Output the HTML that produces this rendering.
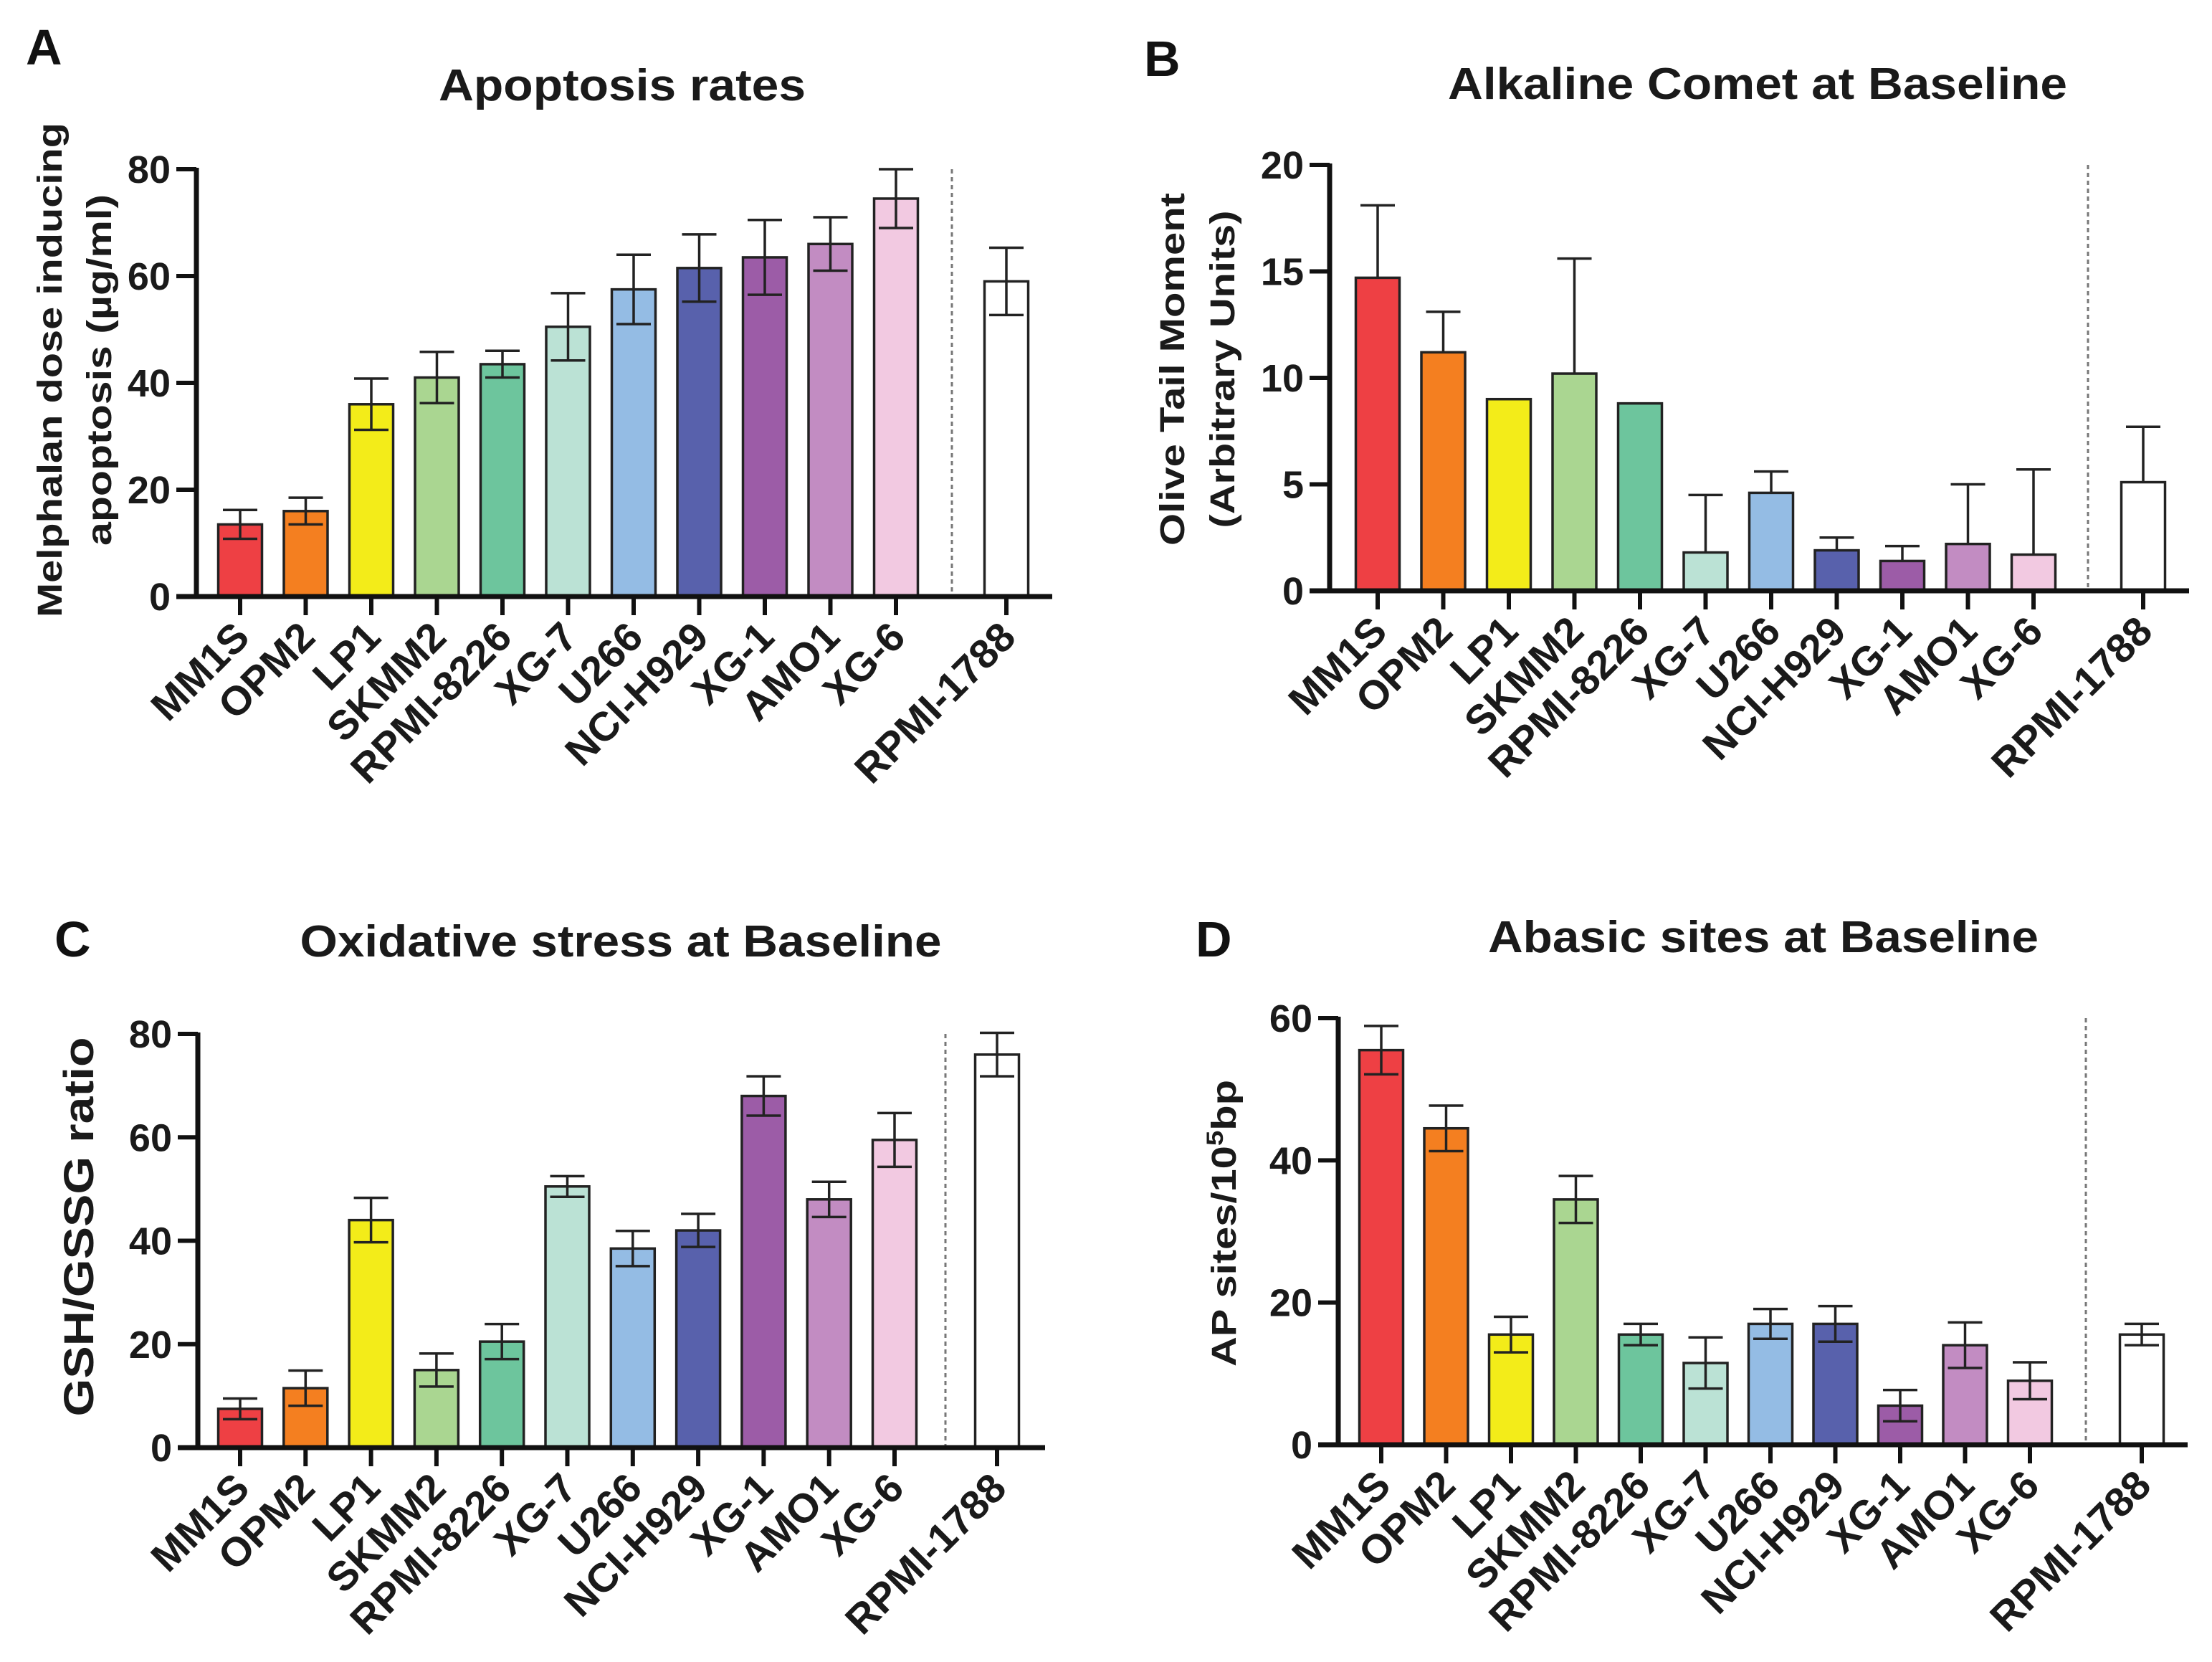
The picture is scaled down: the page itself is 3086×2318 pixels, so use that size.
<!DOCTYPE html>
<html><head><meta charset="utf-8"><style>
html,body{margin:0;padding:0;background:#fff;}
svg{display:block;font-family:"Liberation Sans",Arial,sans-serif;}
</style></head><body>
<svg id="fig" width="3086" height="2318" viewBox="0 0 3086 2318" xmlns="http://www.w3.org/2000/svg"></svg>
<script>
const categories = ["MM1S","OPM2","LP1","SKMM2","RPMI-8226","XG-7","U266","NCI-H929","XG-1","AMO1","XG-6","RPMI-1788"];
const colors = ["#ee4044","#f47f20","#f3ec19","#aad691","#6dc59d","#bbe2d5","#94bce4","#5861ac","#9c5ca7","#c28cc2","#f2c9e1","#ffffff"];
const apoptosisValues = [13.5,16,36,41,43.5,50.5,57.5,61.5,63.5,66,74.5,59];
const apoptosisErrors = [2.7,2.5,4.8,4.8,2.5,6.3,6.5,6.3,7,5,5.5,6.3];
const cometValues = [14.7,11.2,9.0,10.2,8.8,1.8,4.6,1.9,1.4,2.2,1.7,5.1];
const cometErrors = [3.4,1.9,0,5.4,0,2.7,1.0,0.6,0.7,2.8,4.0,2.6];
const oxidativeValues = [7.5,11.5,44,15,20.5,50.5,38.5,42,68,48,59.5,76];
const oxidativeErrors = [2,3.4,4.3,3.2,3.4,2,3.4,3.2,3.8,3.4,5.2,4.2];
const abasicValues = [55.5,44.5,15.5,34.5,15.5,11.5,17,17,5.5,14,9,15.5];
const abasicErrors = [3.4,3.2,2.5,3.3,1.5,3.6,2.1,2.5,2.2,3.2,2.6,1.5];
const ticksA = [0,20,40,60,80];
const ticksB = [0,5,10,15,20];
const ticksC = [0,20,40,60,80];
const ticksD = [0,20,40,60];

const NS="http://www.w3.org/2000/svg";
const svg=document.getElementById('fig');
function mk(tag,attrs,parent){const e=document.createElementNS(NS,tag);for(const k in attrs)e.setAttribute(k,attrs[k]);(parent||svg).appendChild(e);return e;}

function panel(o){
  const g=mk('g',{});
  
  
  const yMax=o.ticks[o.ticks.length-1];
  const yS=v=>o.y0-(v/yMax)*(o.y0-o.yTop);
  const xS=i=>i<11?o.x0+o.step*i:o.xLast;
  const L=mk('text',{x:o.letterX,y:o.letterY,'font-size':70,'font-weight':'bold',fill:'#111'},g);L.textContent=o.letter;
  
  
  const T=mk('text',{x:o.titleX,y:o.titleY,'font-size':62,'font-weight':'bold','text-anchor':'middle',fill:'#1a1a1a',textLength:o.titleLen,lengthAdjust:'spacingAndGlyphs'},g);T.textContent=o.title;
  
  
  o.ytitle.forEach((t,k)=>{
    const yt=mk('text',{transform:`translate(${t.x},${t.y}) rotate(-90)`,'font-size':t.fs,'font-weight':'bold','text-anchor':'middle',fill:'#1a1a1a',textLength:t.len,lengthAdjust:'spacingAndGlyphs'},g);
    yt.innerHTML=t.html;
    
    
  });
  o.values.forEach((v,i)=>{
    const cx=xS(i),w=61;
    const r=mk('rect',{x:cx-w/2,y:yS(v),width:w,height:o.y0-yS(v),fill:colors[i],stroke:'#222',"stroke-width":3.5},g);
    
    
    const e=o.errors[i];
    if(e>0){
      const top=yS(v+e),bot=o.upperOnly?yS(v):yS(v-e);
      const eb=mk('path',{d:`M${cx},${top}V${bot}M${cx-24},${top}H${cx+24}`+(o.upperOnly?'':`M${cx-24},${bot}H${cx+24}`),stroke:'#222','stroke-width':3.5,fill:'none'},g);
      
      
    }
    const tk=mk('line',{x1:cx,y1:o.y0,x2:cx,y2:o.y0+26,stroke:'#111','stroke-width':6},g);
    
    
    const lb=mk('text',{transform:`translate(${cx+16},${o.y0+60}) rotate(-45)`,'font-size':57,'font-weight':'bold','text-anchor':'end',fill:'#1a1a1a'},g);
    lb.textContent=categories[i];
    
    
  });
  const d=mk('line',{x1:o.dashX,y1:o.yTop,x2:o.dashX,y2:o.y0,stroke:'#777','stroke-width':3,'stroke-dasharray':'6 5'},g);
  
  
  const ax=mk('path',{d:`M${o.axX},${o.yTop-2}V${o.y0}M${o.axX-28},${o.y0}H${o.axEnd}`,stroke:'#111','stroke-width':7,fill:'none'},g);
  
  
  o.ticks.forEach(t=>{
    const y=yS(t);
    const tl=mk('line',{x1:o.axX-28,y1:y,x2:o.axX,y2:y,stroke:'#111','stroke-width':6},g);
    
    
    const tt=mk('text',{x:o.axX-36,y:y+19,'font-size':54,'font-weight':'bold','text-anchor':'end',fill:'#1a1a1a'},g);
    tt.textContent=t;
    
    
  });
}

panel({name:'panel-a-apoptosis',letter:'A',letterX:36,letterY:90,title:'Apoptosis rates',titleX:868,titleY:140,titleLen:512,
  values:apoptosisValues,errors:apoptosisErrors,ticks:ticksA,upperOnly:false,
  axX:274,yTop:236,y0:832,x0:335,step:91.5,xLast:1404,dashX:1328,axEnd:1468,
  ytitle:[{x:86,y:516,fs:48,len:690,html:'Melphalan dose inducing'},{x:155,y:516,fs:48,len:490,html:'apoptosis (µg/ml)'}]});
panel({name:'panel-b-comet',letter:'B',letterX:1596,letterY:106,title:'Alkaline Comet at Baseline',titleX:2452,titleY:138,titleLen:864,
  values:cometValues,errors:cometErrors,ticks:ticksB,upperOnly:true,
  axX:1855,yTop:230,y0:824,x0:1922,step:91.5,xLast:2990,dashX:2913,axEnd:3054,
  ytitle:[{x:1652,y:515,fs:48,len:492,html:'Olive Tail Moment'},{x:1722,y:515,fs:48,len:443,html:'(Arbitrary Units)'}]});
panel({name:'panel-c-oxidative',letter:'C',letterX:76,letterY:1334,title:'Oxidative stress at Baseline',titleX:866,titleY:1334,titleLen:895,
  values:oxidativeValues,errors:oxidativeErrors,ticks:ticksC,upperOnly:false,
  axX:276,yTop:1442,y0:2019,x0:335,step:91.3,xLast:1391,dashX:1319,axEnd:1458,
  ytitle:[{x:130,y:1711,fs:58,len:529,html:'GSH/GSSG ratio'}]});
panel({name:'panel-d-abasic',letter:'D',letterX:1668,letterY:1334,title:'Abasic sites at Baseline',titleX:2460,titleY:1328,titleLen:768,
  values:abasicValues,errors:abasicErrors,ticks:ticksD,upperOnly:false,
  axX:1867,yTop:1420,y0:2015,x0:1927,step:90.5,xLast:2988,dashX:2910,axEnd:3052,
  ytitle:[{x:1724,y:1706,fs:48,len:400,html:'AP sites/10<tspan dy="-18" font-size="32">5</tspan><tspan dy="18">bp</tspan>'}]});
</script>
</body></html>
